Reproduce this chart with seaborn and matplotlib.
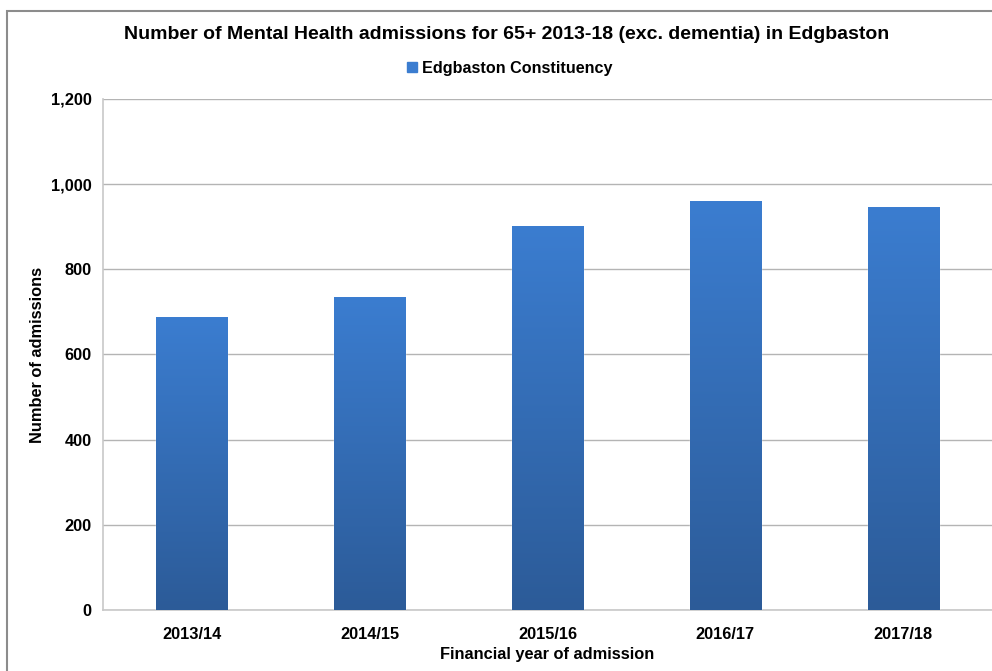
import numpy as np
import pandas as pd
import matplotlib
matplotlib.use("Agg")
import matplotlib.pyplot as plt
import matplotlib.patches as mpatches
from matplotlib.lines import Line2D
from matplotlib.colors import LinearSegmentedColormap
from matplotlib.ticker import FuncFormatter, MultipleLocator, FixedLocator
import seaborn as sns

# data
years = ["2013/14", "2014/15", "2015/16", "2016/17", "2017/18"]
admissions = [688, 734, 902, 960, 946]
series_name = "Edgbaston Constituency"

title = "Number of Mental Health admissions for 65+ 2013-18 (exc. dementia) in Edgbaston"
x_label = "Financial year of admission"
y_label = "Number of admissions"

df = pd.DataFrame({"year": years, "admissions": admissions})

sns.set_theme(style="white")
plt.rcParams["font.family"] = ["Liberation Sans", "DejaVu Sans"]
plt.rcParams["font.weight"] = "bold"
plt.rcParams["text.color"] = "black"

fig = plt.figure(figsize=(9.92, 6.71), dpi=100)
ax = fig.add_axes([0.1038, 0.0909, 0.8962, 0.7616])

top_col = "#3b7dd0"
bot_col = "#2c5b98"
sns.barplot(data=df, x="year", y="admissions", color=top_col, width=0.40,
            saturation=1, ax=ax, zorder=3)

# vertical gradient on every bar
cmap = LinearSegmentedColormap.from_list("bar", [bot_col, top_col])
grad = np.linspace(0, 1, 256).reshape(-1, 1)
for p in ax.patches:
    x0, w, h = p.get_x(), p.get_width(), p.get_height()
    im = ax.imshow(grad, cmap=cmap, origin="lower", aspect="auto",
                   extent=(x0, x0 + w, 0, h), zorder=4)
    im.set_clip_path(p)
ax.set_xlim(-0.5, len(years) - 0.5)
ax.set_ylim(0, 1200)

# axes styling
ax.yaxis.set_major_locator(MultipleLocator(200))
ax.yaxis.set_major_formatter(FuncFormatter(lambda v, _: f"{int(v):,}"))
ax.grid(axis="y", color="#b4b4b4", linewidth=1, zorder=0)
ax.set_axisbelow(True)
for s in ["top", "right"]:
    ax.spines[s].set_visible(False)
for s in ["left", "bottom"]:
    ax.spines[s].set_color("#c8c8c8")
    ax.spines[s].set_linewidth(1.2)

ax.xaxis.set_minor_locator(FixedLocator(np.arange(-0.5, len(years), 1)))
ax.tick_params(axis="x", which="major", length=0, pad=12, labelsize=11.8, colors="black")
ax.tick_params(axis="x", which="minor", length=5, color="#c8c8c8", direction="out")
ax.tick_params(axis="y", which="major", length=5, color="#c8c8c8", direction="out",
               pad=3, labelsize=11.8, colors="black")
for lab in ax.get_xticklabels() + ax.get_yticklabels():
    lab.set_fontweight("bold")

ax.set_xlabel(x_label, fontsize=11.8, fontweight="bold", labelpad=4, color="black")
ax.set_ylabel(y_label, fontsize=11.8, fontweight="bold", labelpad=4, color="black")

fig.text(0.511, 0.948, title, ha="center", va="center", fontsize=14, fontweight="bold",
         color="black")

handle = Line2D([], [], marker="s", linestyle="none", markersize=7,
                color=top_col, markeredgecolor=top_col)
fig.legend([handle], [series_name], loc="center", bbox_to_anchor=(0.514, 0.898),
           frameon=False, handlelength=0.6, handletextpad=0.3,
           prop={"size": 11.6, "weight": "bold"})

# chart area frame
frame_top = 1 - 11 / 671
frame = mpatches.Rectangle((0.007, -0.2), 1.2, frame_top + 0.2,
                           transform=fig.transFigure, fill=False,
                           edgecolor="#8c8c8c", linewidth=1.5, zorder=10)
fig.patches.append(frame)

fig.savefig("out.png", dpi=100)
